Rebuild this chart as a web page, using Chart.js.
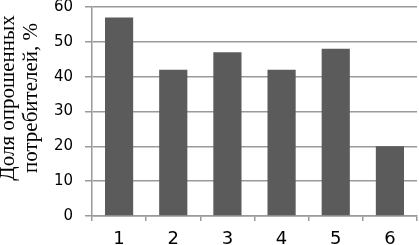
<!DOCTYPE html>
<html>
<head>
<meta charset="utf-8">
<script src="https://cdn.jsdelivr.net/npm/chart.js@4"></script>
<style>
    html, body { margin: 0; padding: 0; background: #fff; }
    #wrap { width: 419px; height: 245px; }
</style>
</head>
<body>
<div id="wrap"><canvas id="chart"></canvas></div>
<script>
// chart data
const categories = ['1', '2', '3', '4', '5', '6'];
const shares = [57, 42, 47, 42, 48, 20];
const yTitle = ['Доля опрошенных', 'потребителей, %'];

const gridColor = '#9a9a9a';

// rotated two-line y title, placed like in the source picture
const yTitlePlugin = {
    id: 'yTitle',
    afterDraw(chart) {
        const ctx = chart.ctx;
        ctx.save();
        ctx.fillStyle = '#000';
        ctx.font = '21px "Liberation Serif"';
        ctx.textAlign = 'center';
        ctx.textBaseline = 'alphabetic';
        const baselines = [14, 37];
        yTitle.forEach((line, i) => {
            ctx.save();
            ctx.translate(baselines[i], 98);
            ctx.rotate(-Math.PI / 2);
            ctx.fillText(line, 0, 0);
            ctx.restore();
        });
        ctx.restore();
    }
};

const chart = new Chart(document.getElementById('chart').getContext('2d'), {
    type: 'bar',
    data: {
        labels: categories,
        datasets: [{
            data: shares,
            backgroundColor: '#5b5b5b',
            categoryPercentage: 1,
            barPercentage: 0.52
        }]
    },
    plugins: [yTitlePlugin],
    options: {
        responsive: true,
        maintainAspectRatio: false,
        animation: false,
        events: [],
        layout: {
            padding: { left: 0, right: 2, top: 0, bottom: 0 }
        },
        plugins: {
            legend: { display: false },
            tooltip: { enabled: false }
        },
        scales: {
            x: {
                offset: true,
                afterFit(scale) {
                    scale.height = 29;
                },
                grid: {
                    offset: true,
                    drawOnChartArea: false,
                    drawTicks: true,
                    tickLength: 5,
                    color: gridColor,
                    lineWidth: 1.5
                },
                border: { color: gridColor, width: 1.5 },
                ticks: {
                    color: '#000',
                    font: { family: 'DejaVu Sans', size: 18, lineHeight: 1.2 },
                    padding: 8
                }
            },
            y: {
                min: 0,
                max: 60,
                afterFit(scale) {
                    scale.width = 92;
                    scale.paddingTop = 7;
                    scale.paddingBottom = 0;
                },
                ticks: {
                    stepSize: 10,
                    color: '#000',
                    font: { family: 'DejaVu Sans', size: 15 },
                    padding: 12
                },
                grid: {
                    color: gridColor,
                    lineWidth: 1.5,
                    tickLength: 7
                },
                border: { color: gridColor, width: 1.5 }
            }
        }
    }
});
</script>
</body>
</html>
